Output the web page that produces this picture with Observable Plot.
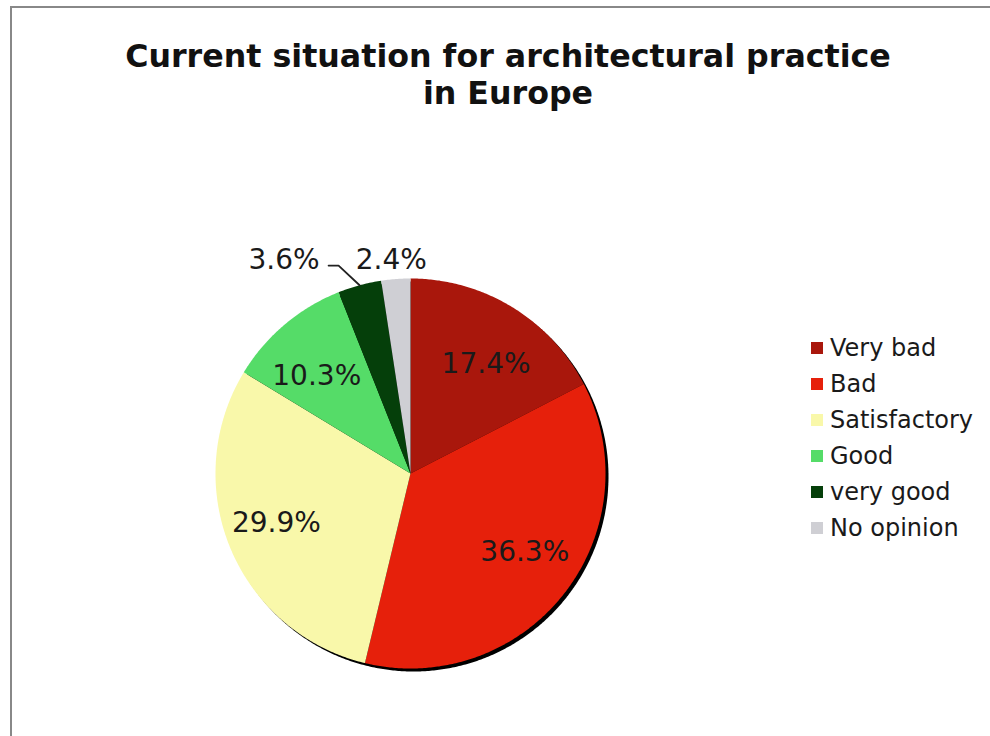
<!DOCTYPE html>
<html>
<head>
<meta charset="utf-8">
<script src="https://cdn.jsdelivr.net/npm/d3@7"></script>
<script src="https://cdn.jsdelivr.net/npm/@observablehq/plot@0.6"></script>
<style>
  html, body { margin: 0; padding: 0; background: #fff; overflow: hidden; }
  #wrap { position: relative; width: 990px; height: 736px; overflow: hidden; font-family: "DejaVu Sans", Verdana, sans-serif; }
  #frame { position: absolute; left: 10px; top: 6px; width: 1000px; height: 760px; border: 2px solid #888; box-sizing: border-box; }
  #chart { position: absolute; left: 0; top: 0; }
  #title { position: absolute; left: 8px; top: 38px; width: 1000px; text-align: center; font-weight: bold; font-size: 31.7px; line-height: 37px; color: #111; }
  #legend { position: absolute; left: 811px; top: 330px; font-size: 24px; color: #1a1a1a; }
  .row { display: flex; align-items: center; height: 36px; white-space: nowrap; }
  .sw { width: 12px; height: 12px; margin-right: 7px; flex: none; }
</style>
</head>
<body>
<div id="wrap">
  <div id="frame"></div>
  <div id="chart"></div>
  <div id="title">Current situation for architectural practice<br>in Europe</div>
  <div id="legend"></div>
</div>
<script>
const categories = ["Very bad", "Bad", "Satisfactory", "Good", "very good", "No opinion"];
const values = [17.4, 36.3, 29.9, 10.3, 3.6, 2.4];
const colors = ["#a9170c", "#e6200b", "#f9f8aa", "#55dc68", "#053f0a", "#cfcfd4"];
const chartTitle = "Current situation for architectural practice in Europe";

const total = d3.sum(values);
const TAU = 2 * Math.PI;
// angles from 12 o'clock, clockwise
let acc = 0;
const slices = categories.map((c, i) => {
  const a0 = acc / total * TAU;
  acc += values[i];
  const a1 = acc / total * TAU;
  return {key: c, value: values[i], a0, a1, mid: (a0 + a1) / 2};
});
const pt = (a, r) => ({x: r * Math.sin(a), y: r * Math.cos(a)});

// slice outlines
const slicePts = [];
for (const s of slices) {
  slicePts.push({key: s.key, ...pt(0, 0)});
  const n = Math.max(2, Math.ceil((s.a1 - s.a0) / (Math.PI / 360)));
  for (let k = 0; k <= n; k++) slicePts.push({key: s.key, ...pt(s.a0 + (s.a1 - s.a0) * k / n, 1)});
}
// shadow disc
const disc = d3.range(0, 721).map(k => ({key: "shadow", ...pt(k / 720 * TAU, 1)}));

// labels
const fmt = v => v.toFixed(1) + "%";
const inside = slices.filter(s => s.value >= 5).map(s => ({x: 0.745 * Math.sin(s.mid), y: 0.655 * Math.cos(s.mid), text: fmt(s.value)}));
const small = slices.filter(s => s.value < 5);
const labelRow = 1.097;
const pxu = 1 / 195;
const outside = [];
const leaders = [];
small.forEach((s, j) => {
  const e = pt(s.mid, 1);
  if (j === small.length - 1) {
    outside.push({x: pt(s.mid, 1.1).x - 3 * pxu, y: labelRow, text: fmt(s.value), anchor: "middle"});
  } else {
    const elbow = {x: e.x - 21 * pxu, y: labelRow - 6 * pxu};
    const end = {x: elbow.x - 10 * pxu, y: elbow.y};
    leaders.push({id: s.key, ...e}, {id: s.key, ...elbow}, {id: s.key, ...end});
    outside.push({x: end.x - 9 * pxu, y: labelRow, text: fmt(s.value), anchor: "end"});
  }
});

const plot = Plot.plot({
  width: 990,
  height: 736,
  margin: 0,
  style: {background: "transparent", fontFamily: "DejaVu Sans, Verdana, sans-serif"},
  x: {domain: [-1, 1], range: [215, 605], axis: null},
  y: {domain: [-1, 1], range: [668, 278], axis: null},
  color: {domain: categories, range: colors},
  marks: [
    Plot.line(disc, {x: "x", y: "y", fill: "#000", stroke: "none", curve: "linear-closed", dx: 3, dy: 3}),
    Plot.line(slicePts, {x: "x", y: "y", z: "key", fill: "key", stroke: "none", curve: "linear-closed"}),
    Plot.line(leaders, {x: "x", y: "y", z: "id", stroke: "#222", strokeWidth: 1.8}),
    Plot.text(inside, {x: "x", y: "y", text: "text", fontSize: 28, fill: "#1a1a1a"}),
    Plot.text(outside.filter(d => d.anchor === "middle"), {x: "x", y: "y", text: "text", fontSize: 28, fill: "#1a1a1a", textAnchor: "middle"}),
    Plot.text(outside.filter(d => d.anchor === "end"), {x: "x", y: "y", text: "text", fontSize: 28, fill: "#1a1a1a", textAnchor: "end"})
  ]
});
document.getElementById("chart").appendChild(plot);

const legend = document.getElementById("legend");
categories.forEach((c, i) => {
  const row = document.createElement("div");
  row.className = "row";
  const sw = document.createElement("span");
  sw.className = "sw";
  sw.style.background = colors[i];
  const t = document.createElement("span");
  t.textContent = c;
  row.appendChild(sw);
  row.appendChild(t);
  legend.appendChild(row);
});
</script>
</body>
</html>
